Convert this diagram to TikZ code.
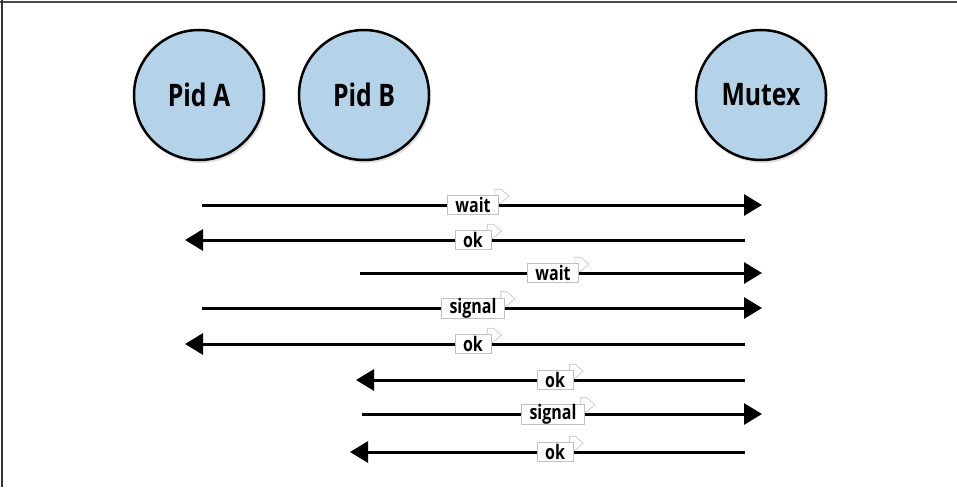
\documentclass[tikz,border=0pt]{standalone}
\usepackage{fontspec}
\newfontfamily\condfont[FakeStretch=0.8]{Open Sans}
\usepackage{tikz}
\usetikzlibrary{arrows.meta, backgrounds, shadows}
\definecolor{procblue}{RGB}{180,211,233}

\begin{document}
\begin{tikzpicture}[
    x=1pt, y=-1pt,
    >={Triangle[length=18pt,width=21pt]},
    proc/.style={circle, draw=black, line width=2.5pt, fill=procblue,
                 minimum size=130pt, inner sep=0pt,
                 font=\condfont\bfseries\fontsize{31}{33}\selectfont,
                 drop shadow={shadow xshift=2pt, shadow yshift=-3pt, opacity=0.25}},
    msgline/.style={line width=3pt},
    msg/.style={fill=white, draw=black!25, line width=0.6pt, inner xsep=8pt,
                inner ysep=0pt, minimum height=19pt,
                font=\condfont\bfseries\fontsize{20}{20}\selectfont},
    flag/.style={draw=black!25, line width=0.6pt, fill=white}
]
\useasboundingbox (0,0) rectangle (957,487);
\draw[black!70, line width=2pt] (0,2) -- (957,2);
\draw[black!80, line width=2pt] (2,0) -- (2,487);

\node[proc] (pidA) at (199,95) {Pid A};
\node[proc] (pidB) at (364,95) {Pid B};
\node[proc] (mutex) at (761,95) {Mutex};

% messages: y / from / to / label x / text
\foreach \y/\from/\to/\lx/\txt [count=\i] in {
    205/202/762/473/wait, 240/745/185/473/ok, 273/360/762/553/wait,
    308/202/762/473/signal, 344/745/185/473/ok, 380/745/356/555/ok,
    414/362/762/553/signal, 452/745/350/555/ok} {
    \coordinate (f\i) at (\from,\y);
    \coordinate (t\i) at (\to,\y);
    \draw[msgline, ->] (f\i) -- (t\i);
    \node[msg] (m\i) at (\lx,\y) {\txt};
    \begin{pgfonlayer}{background}
        \draw[flag] ([xshift=-4pt, yshift=6pt]m\i.north east) -- ++(6,0)
            -- ++(8,7) -- ++(-8,7) -- ++(-6,0) -- cycle;
    \end{pgfonlayer}
}
\end{tikzpicture}
\end{document}
